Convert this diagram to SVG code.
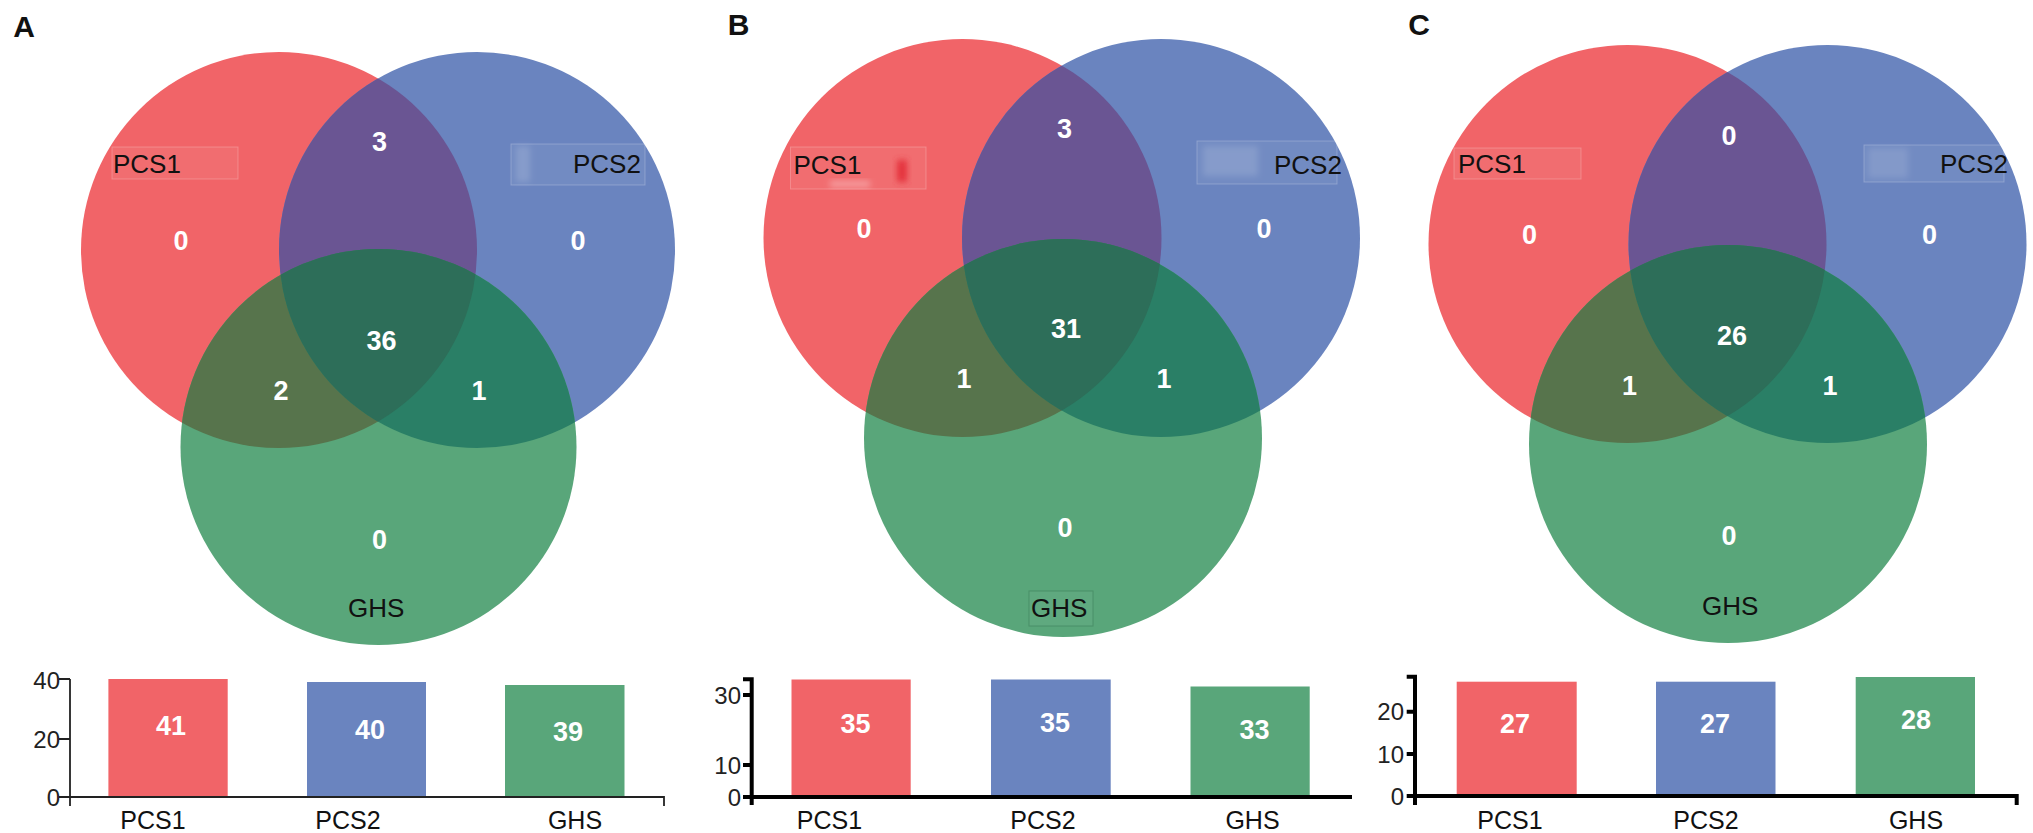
<svg xmlns="http://www.w3.org/2000/svg" width="2033" height="833" viewBox="0 0 2033 833">
<style>
.bg{fill:#ffffff}
.red{fill:#F16468}
.blue{fill:#6A84BF}
.green{fill:#59A67A}
.rb{fill:#6A5593}
.rg{fill:#57744C}
.bgr{fill:#2A7F66}
.all{fill:#2D6E59}
.num{font-family:"Liberation Sans",Arial,sans-serif;font-weight:bold;font-size:27px;fill:#ffffff;text-anchor:middle}
.lab{font-family:"Liberation Sans",Arial,sans-serif;font-size:26px;fill:#111111}
.panel{font-family:"Liberation Sans",Arial,sans-serif;font-weight:bold;font-size:30px;fill:#111111;text-anchor:middle}
.tick{font-family:"Liberation Sans",Arial,sans-serif;font-size:24px;fill:#222222;text-anchor:end}
.xl{font-family:"Liberation Sans",Arial,sans-serif;font-size:25px;fill:#111111;text-anchor:middle}
.box{fill:#ffffff;fill-opacity:0.06;stroke:#ffffff;stroke-opacity:0.22;stroke-width:1}
.axA{stroke:#222222;stroke-width:1.8;fill:none}
.axB{stroke:#000000;stroke-width:4;fill:none}
</style>
<defs>
<clipPath id="cA-r"><circle cx="279" cy="250" r="198"/></clipPath>
<clipPath id="cA-b"><circle cx="477" cy="250" r="198"/></clipPath>
<clipPath id="cB-r"><circle cx="962.5" cy="238" r="199"/></clipPath>
<clipPath id="cB-b"><circle cx="1161" cy="238" r="199"/></clipPath>
<clipPath id="cC-r"><circle cx="1627.5" cy="244" r="199"/></clipPath>
<clipPath id="cC-b"><circle cx="1827.5" cy="244" r="199"/></clipPath>
<filter id="blur" x="-50%" y="-50%" width="200%" height="200%"><feGaussianBlur stdDeviation="3"/></filter>
</defs>
<rect class="bg" x="0" y="0" width="2033" height="833"/>

<!-- ================= PANEL A ================= -->
<g id="panel-A">
  <text class="panel" x="24" y="37">A</text>
  <g id="A-venn">
    <g id="A-PCS1"><circle class="red" cx="279" cy="250" r="198"/></g>
    <g id="A-PCS2"><circle class="blue" cx="477" cy="250" r="198"/></g>
    <g id="A-GHS"><circle class="green" cx="378.5" cy="447" r="198"/></g>
    <g id="A-overlaps">
      <circle class="rb" cx="477" cy="250" r="198" clip-path="url(#cA-r)"/>
      <circle class="rg" cx="378.5" cy="447" r="198" clip-path="url(#cA-r)"/>
      <circle class="bgr" cx="378.5" cy="447" r="198" clip-path="url(#cA-b)"/>
      <g clip-path="url(#cA-r)"><circle class="all" cx="378.5" cy="447" r="198" clip-path="url(#cA-b)"/></g>
    </g>
    <g id="A-labels">
      <rect class="box" x="112" y="147" width="126" height="32"/>
      <rect class="box" x="511" y="144" width="134" height="41"/>
      <rect x="516" y="146" width="14" height="36" fill="#ffffff" fill-opacity="0.15" filter="url(#blur)"/>
      <text class="lab" x="113" y="173">PCS1</text>
      <text class="lab" x="573" y="173">PCS2</text>
      <text class="lab" x="348" y="617">GHS</text>
    </g>
    <g id="A-counts">
      <text class="num" x="379.5" y="151">3</text>
      <text class="num" x="181" y="250">0</text>
      <text class="num" x="578" y="250">0</text>
      <text class="num" x="381.5" y="350">36</text>
      <text class="num" x="281" y="400">2</text>
      <text class="num" x="479" y="400">1</text>
      <text class="num" x="379.5" y="549">0</text>
    </g>
  </g>
  <g id="A-bars">
    <rect class="red" x="108.4" y="679" width="119.3" height="118"/>
    <rect class="blue" x="307" y="682" width="119" height="115"/>
    <rect class="green" x="505" y="685" width="119.5" height="112"/>
    <path class="axA" d="M70 679 V806 M59 679 H70 M59 739 H70 M59 797 H664 V806"/>
    <text class="tick" x="60" y="689">40</text>
    <text class="tick" x="60" y="747.5">20</text>
    <text class="tick" x="60" y="805.5">0</text>
    <text class="num" x="171" y="734.5">41</text>
    <text class="num" x="370" y="738.5">40</text>
    <text class="num" x="568" y="741">39</text>
    <text class="xl" x="153" y="829">PCS1</text>
    <text class="xl" x="348" y="829">PCS2</text>
    <text class="xl" x="575" y="829">GHS</text>
  </g>
</g>

<!-- ================= PANEL B ================= -->
<g id="panel-B">
  <text class="panel" x="738.5" y="35">B</text>
  <g id="B-venn">
    <g id="B-PCS1"><circle class="red" cx="962.5" cy="238" r="199"/></g>
    <g id="B-PCS2"><circle class="blue" cx="1161" cy="238" r="199"/></g>
    <g id="B-GHS"><circle class="green" cx="1063" cy="438" r="199"/></g>
    <g id="B-overlaps">
      <circle class="rb" cx="1161" cy="238" r="199" clip-path="url(#cB-r)"/>
      <circle class="rg" cx="1063" cy="438" r="199" clip-path="url(#cB-r)"/>
      <circle class="bgr" cx="1063" cy="438" r="199" clip-path="url(#cB-b)"/>
      <g clip-path="url(#cB-r)"><circle class="all" cx="1063" cy="438" r="199" clip-path="url(#cB-b)"/></g>
    </g>
    <g id="B-labels">
      <rect class="box" x="790.5" y="147" width="135.5" height="42"/>
      <rect x="897" y="160" width="10" height="22" fill="#E4303A" filter="url(#blur)"/>
      <rect x="830" y="181" width="40" height="6" fill="#ffffff" fill-opacity="0.35" filter="url(#blur)"/>
      <rect class="box" x="1197" y="141" width="140" height="43"/>
      <rect x="1203" y="146" width="55" height="30" fill="#ffffff" fill-opacity="0.14" filter="url(#blur)"/>
      <rect x="1029" y="591" width="64" height="35" fill="#ffffff" fill-opacity="0.04" stroke="#3E7F5A" stroke-opacity="0.6" stroke-width="1"/>
      <text class="lab" x="793.5" y="174">PCS1</text>
      <text class="lab" x="1274" y="174">PCS2</text>
      <text class="lab" x="1031" y="617">GHS</text>
    </g>
    <g id="B-counts">
      <text class="num" x="1064.5" y="138">3</text>
      <text class="num" x="864" y="238">0</text>
      <text class="num" x="1264" y="238">0</text>
      <text class="num" x="1066" y="337.5">31</text>
      <text class="num" x="964" y="388">1</text>
      <text class="num" x="1164" y="388">1</text>
      <text class="num" x="1065" y="537">0</text>
    </g>
  </g>
  <g id="B-bars">
    <rect class="red" x="791.5" y="679.5" width="119.2" height="117.5"/>
    <rect class="blue" x="991" y="679.5" width="119.7" height="117.5"/>
    <rect class="green" x="1190.5" y="686.5" width="119.2" height="110.5"/>
    <path class="axB" d="M751.7 679.3 V805 M743 679.3 H753.7 M743 695 H751.7 M743 765 H751.7 M743 797 H1352"/>
    <text class="tick" x="741" y="703.5">30</text>
    <text class="tick" x="741" y="773.5">10</text>
    <text class="tick" x="741" y="805.5">0</text>
    <text class="num" x="855.5" y="733">35</text>
    <text class="num" x="1055" y="732">35</text>
    <text class="num" x="1254.5" y="738.5">33</text>
    <text class="xl" x="829.5" y="829">PCS1</text>
    <text class="xl" x="1043" y="829">PCS2</text>
    <text class="xl" x="1252.5" y="829">GHS</text>
  </g>
</g>

<!-- ================= PANEL C ================= -->
<g id="panel-C">
  <text class="panel" x="1419" y="35">C</text>
  <g id="C-venn">
    <g id="C-PCS1"><circle class="red" cx="1627.5" cy="244" r="199"/></g>
    <g id="C-PCS2"><circle class="blue" cx="1827.5" cy="244" r="199"/></g>
    <g id="C-GHS"><circle class="green" cx="1728" cy="444" r="199"/></g>
    <g id="C-overlaps">
      <circle class="rb" cx="1827.5" cy="244" r="199" clip-path="url(#cC-r)"/>
      <circle class="rg" cx="1728" cy="444" r="199" clip-path="url(#cC-r)"/>
      <circle class="bgr" cx="1728" cy="444" r="199" clip-path="url(#cC-b)"/>
      <g clip-path="url(#cC-r)"><circle class="all" cx="1728" cy="444" r="199" clip-path="url(#cC-b)"/></g>
    </g>
    <g id="C-labels">
      <rect class="box" x="1454" y="148" width="127" height="31"/>
      <rect class="box" x="1864" y="145" width="140" height="37"/>
      <rect x="1868" y="148" width="40" height="30" fill="#ffffff" fill-opacity="0.12" filter="url(#blur)"/>
      <text class="lab" x="1458" y="173">PCS1</text>
      <text class="lab" x="1940" y="173">PCS2</text>
      <text class="lab" x="1702" y="615">GHS</text>
    </g>
    <g id="C-counts">
      <text class="num" x="1729" y="145">0</text>
      <text class="num" x="1529.5" y="244">0</text>
      <text class="num" x="1929.5" y="244">0</text>
      <text class="num" x="1732" y="345">26</text>
      <text class="num" x="1629.5" y="395">1</text>
      <text class="num" x="1830" y="395">1</text>
      <text class="num" x="1729" y="545">0</text>
    </g>
  </g>
  <g id="C-bars">
    <rect class="red" x="1456.7" y="681.7" width="120" height="114.3"/>
    <rect class="blue" x="1656" y="681.7" width="119.5" height="114.3"/>
    <rect class="green" x="1855.7" y="677" width="119.3" height="119"/>
    <path class="axB" d="M1415 676.7 V805 M1406.7 676.7 H1417 M1406.7 711.7 H1415 M1406.7 754 H1415 M1406.7 796 H2016.7 V805"/>
    <text class="tick" x="1404" y="720">20</text>
    <text class="tick" x="1404" y="762.5">10</text>
    <text class="tick" x="1404" y="804.5">0</text>
    <text class="num" x="1515" y="733">27</text>
    <text class="num" x="1715" y="733">27</text>
    <text class="num" x="1916" y="728.5">28</text>
    <text class="xl" x="1510" y="829">PCS1</text>
    <text class="xl" x="1706" y="829">PCS2</text>
    <text class="xl" x="1916" y="829">GHS</text>
  </g>
</g>

<g id="connectors"></g>
</svg>
